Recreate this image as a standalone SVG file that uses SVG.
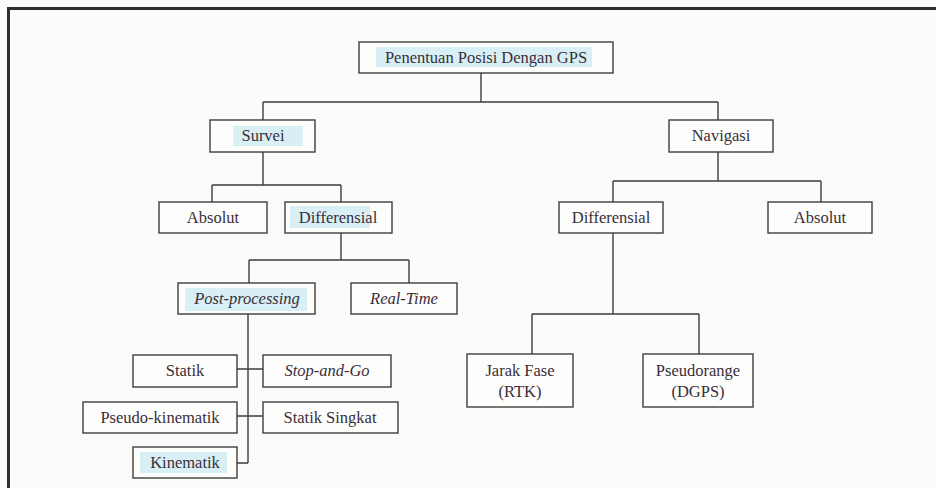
<svg xmlns="http://www.w3.org/2000/svg" width="936" height="488" viewBox="0 0 936 488">
<style>
.bg{fill:#fbfbf9}
.frame{fill:none;stroke:#2f2f2f;stroke-width:3}
.box{fill:#fdfdfc;stroke:#3d3d3d;stroke-width:1.4}
.hl{fill:#d9eff6}
.t{font-family:"Liberation Serif","Times New Roman",serif;font-size:16.5px;fill:#3a2f39;text-anchor:middle}
.i{font-style:italic}
.conn path{fill:none;stroke:#3d3d3d;stroke-width:1.4}
</style>
<rect class="bg" x="0" y="0" width="936" height="488"/>
<path class="frame" d="M8.5 488 V8.5 H936"/>
<g class="conn" id="connectors">
<path d="M481 73 V102 M263 102 H718 M263 102 V120 M718 102 V120"/>
<path d="M263 152 V185 M212 185 H341 M212 185 V202 M341 185 V202"/>
<path d="M341 233 V260 M249 260 H409 M249 260 V283 M409 260 V283"/>
<path d="M248 314 V463 M237 369 H263 M237 416 H263 M237 463 H248"/>
<path d="M718 152 V181 M613 181 H821 M613 181 V202 M821 181 V202"/>
<path d="M613 233 V314 M532 314 H699 M532 314 V354 M699 314 V354"/>
</g>
<g id="root"><rect class="box" x="359" y="42" width="254" height="31"/><rect class="hl" x="376" y="47" width="216" height="20"/><text class="t" x="486" y="63">Penentuan Posisi Dengan GPS</text></g>
<g id="survei"><rect class="box" x="210" y="120" width="105" height="32"/><rect class="hl" x="233" y="126" width="70" height="20"/><text class="t" x="263" y="141">Survei</text></g>
<g id="navigasi"><rect class="box" x="669" y="120" width="104" height="32"/><text class="t" x="721" y="141">Navigasi</text></g>
<g id="absolut1"><rect class="box" x="159" y="202" width="108" height="31"/><text class="t" x="213" y="223">Absolut</text></g>
<g id="differensial1"><rect class="box" x="285" y="202" width="107" height="31"/><rect class="hl" x="290" y="206" width="80" height="22"/><text class="t" x="338" y="223">Differensial</text></g>
<g id="differensial2"><rect class="box" x="559" y="202" width="104" height="31"/><text class="t" x="611" y="223">Differensial</text></g>
<g id="absolut2"><rect class="box" x="768" y="202" width="104" height="31"/><text class="t" x="820" y="223">Absolut</text></g>
<g id="postprocessing"><rect class="box" x="178" y="283" width="137" height="31"/><rect class="hl" x="185" y="288" width="122" height="23"/><text class="t i" x="247" y="304">Post-processing</text></g>
<g id="realtime"><rect class="box" x="351" y="283" width="106" height="31"/><text class="t i" x="404" y="304">Real-Time</text></g>
<g id="statik"><rect class="box" x="133" y="355" width="104" height="32"/><text class="t" x="185" y="376">Statik</text></g>
<g id="stopandgo"><rect class="box" x="263" y="355" width="128" height="32"/><text class="t i" x="327" y="376">Stop-and-Go</text></g>
<g id="pseudokinematik"><rect class="box" x="83" y="402" width="154" height="31"/><text class="t" x="160" y="423">Pseudo-kinematik</text></g>
<g id="statiksingkat"><rect class="box" x="263" y="402" width="135" height="31"/><text class="t" x="330" y="423">Statik Singkat</text></g>
<g id="kinematik"><rect class="box" x="133" y="447" width="104" height="31"/><rect class="hl" x="140" y="452" width="87" height="21"/><text class="t" x="185" y="468">Kinematik</text></g>
<g id="jarakfase"><rect class="box" x="467" y="354" width="106" height="53"/><text class="t" x="520" y="376">Jarak Fase</text><text class="t" x="520" y="397">(RTK)</text></g>
<g id="pseudorange"><rect class="box" x="643" y="354" width="110" height="53"/><text class="t" x="698" y="376">Pseudorange</text><text class="t" x="698" y="397">(DGPS)</text></g>
</svg>
